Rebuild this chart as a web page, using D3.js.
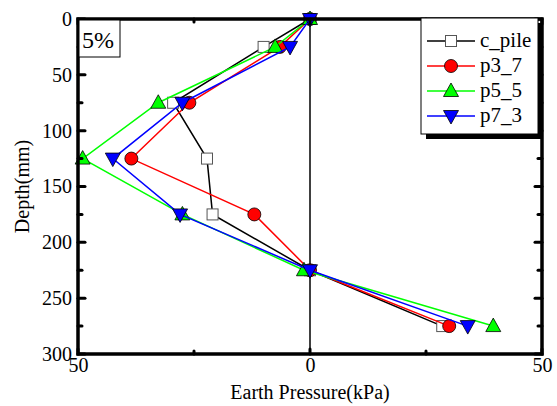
<!DOCTYPE html>
<html>
<head>
<meta charset="utf-8">
<script src="https://cdn.jsdelivr.net/npm/d3@7"></script>
<style>
  body { margin: 0; background: #fff; }
</style>
</head>
<body>
<div id="chart"></div>
<script>
// depth of each gauge (mm)
const depths = [0, 25, 75, 125, 175, 225, 275];

// earth pressure (kPa) per pile
const cPile = [0, -10, -29.5, -22.2, -21, 0, 28.5];
const p3_7 = [0, -6.5, -26, -38.5, -12, 0, 30];
const p5_5 = [0, -7.5, -32.7, -49, -27.5, -1.3, 39.5];
const p7_3 = [0, -4.3, -27.5, -42.5, -28, 0, 34];

const seriesNames = ["c_pile", "p3_7", "p5_5", "p7_3"];
const seriesValues = [cPile, p3_7, p5_5, p7_3];
const seriesColors = ["#000000", "#ff0000", "#00ff00", "#0000ff"];
const seriesMarkers = ["square", "circle", "up", "down"];

const xTicks = [-50, 0, 50];
const xMinor = [-25, 25];
const yTicks = [0, 50, 100, 150, 200, 250, 300];
const yMinor = [25, 75, 125, 175, 225, 275];

const FONT = "Liberation Serif";

const width = 557, height = 406;
const m = { left: 78, right: 15, top: 19, bottom: 52 };

const svg = d3.select("#chart").append("svg")
  .attr("width", width)
  .attr("height", height);

const x = d3.scaleLinear().domain([-50, 50]).range([m.left, width - m.right]);
const y = d3.scaleLinear().domain([0, 300]).range([m.top, height - m.bottom]);

/*****************************************************
 * ZERO LINE
 *****************************************************/
svg.append("line")
  .attr("x1", x(0)).attr("x2", x(0))
  .attr("y1", y(0)).attr("y2", y(300))
  .attr("stroke", "#000").attr("stroke-width", 1.5);

/*****************************************************
 * SERIES
 *****************************************************/
function marker(g, type, color) {
  if (type === "square") {
    g.append("rect").attr("x", -5.5).attr("y", -5.5).attr("width", 11).attr("height", 11)
      .attr("fill", "#fff").attr("stroke", "#555").attr("stroke-width", 1);
  } else if (type === "circle") {
    g.append("circle").attr("r", 6.5).attr("fill", color).attr("stroke", "#000").attr("stroke-width", 0.8);
  } else {
    const s = type === "up" ? 1 : -1;
    g.append("path")
      .attr("d", `M0,${-8 * s}L7.5,${5.5 * s}L-7.5,${5.5 * s}Z`)
      .attr("fill", color).attr("stroke", "#000").attr("stroke-width", 0.8);
  }
}

const line = d3.line().x(d => x(d[0])).y(d => y(d[1]));

seriesValues.forEach((vals, i) => {
  const pts = vals.map((v, j) => [v, depths[j]]);
  svg.append("path")
    .attr("d", line(pts))
    .attr("fill", "none")
    .attr("stroke", seriesColors[i])
    .attr("stroke-width", 1.5);
  pts.forEach(p => {
    const g = svg.append("g").attr("transform", `translate(${x(p[0])},${y(p[1])})`);
    marker(g, seriesMarkers[i], seriesColors[i]);
  });
});

/*****************************************************
 * AXES (ticks inside)
 *****************************************************/
const fmt = d => Math.abs(d);

const left = svg.append("g").attr("transform", `translate(${m.left},0)`)
  .call(d3.axisLeft(y).tickValues(yTicks).tickSize(0).tickPadding(6).tickFormat(fmt));
const bottom = svg.append("g").attr("transform", `translate(0,${height - m.bottom})`)
  .call(d3.axisBottom(x).tickValues(xTicks).tickSize(0).tickPadding(4).tickFormat(fmt));
[left, bottom].forEach(a => {
  a.attr("font-family", FONT).attr("font-size", 20);
  a.select(".domain").remove();
  a.selectAll("text").attr("fill", "#000").attr("font-family", FONT);
});

const tickG = svg.append("g").attr("stroke", "#000").attr("stroke-linecap", "round");
yTicks.concat(yMinor).forEach(v => {
  const len = yTicks.includes(v) ? 7 : 4;
  tickG.append("line").attr("x1", m.left).attr("x2", m.left + len)
    .attr("y1", y(v)).attr("y2", y(v)).attr("stroke-width", 3);
  tickG.append("line").attr("x1", width - m.right).attr("x2", width - m.right - len)
    .attr("y1", y(v)).attr("y2", y(v)).attr("stroke-width", 3);
});
xTicks.concat(xMinor).forEach(v => {
  const len = xTicks.includes(v) ? 5 : 3;
  tickG.append("line").attr("x1", x(v)).attr("x2", x(v))
    .attr("y1", y(300)).attr("y2", y(300) - len).attr("stroke-width", 3);
  tickG.append("line").attr("x1", x(v)).attr("x2", x(v))
    .attr("y1", y(0)).attr("y2", y(0) + len).attr("stroke-width", 3);
});

// frame
svg.append("rect")
  .attr("x", m.left).attr("y", m.top)
  .attr("width", width - m.left - m.right)
  .attr("height", height - m.top - m.bottom)
  .attr("fill", "none").attr("stroke", "#000").attr("stroke-width", 3.5);

/*****************************************************
 * AXIS TITLES
 *****************************************************/
svg.append("text")
  .attr("x", x(0)).attr("y", height - 7)
  .attr("text-anchor", "middle").attr("font-size", 20).attr("font-family", FONT)
  .text("Earth Pressure(kPa)");

svg.append("text")
  .attr("transform", `translate(29,${y(150)}) rotate(-90)`)
  .attr("text-anchor", "middle").attr("font-size", 20).attr("font-family", FONT)
  .text("Depth(mm)");

/*****************************************************
 * 5% LABEL
 *****************************************************/
svg.append("rect")
  .attr("x", m.left + 1).attr("y", m.top + 1).attr("width", 41).attr("height", 37)
  .attr("fill", "#fff").attr("stroke", "#000").attr("stroke-width", 1);
svg.append("text")
  .attr("x", m.left + 4).attr("y", m.top + 29)
  .attr("font-size", 24).attr("font-family", FONT)
  .text("5%");

/*****************************************************
 * LEGEND
 *****************************************************/
const lx = 421, ly = 18, lw = 117, lh = 116;
svg.append("rect").attr("x", lx + 5).attr("y", ly + 5).attr("width", lw).attr("height", lh)
  .attr("fill", "#000");
svg.append("rect").attr("x", lx).attr("y", ly).attr("width", lw).attr("height", lh)
  .attr("fill", "#fff").attr("stroke", "#000").attr("stroke-width", 1);

seriesNames.forEach((name, i) => {
  const yy = ly + 23 + i * 25;
  svg.append("line").attr("x1", lx + 6).attr("x2", lx + 54)
    .attr("y1", yy).attr("y2", yy)
    .attr("stroke", seriesColors[i]).attr("stroke-width", 1.5);
  const g = svg.append("g").attr("transform", `translate(${lx + 30},${yy})`);
  marker(g, seriesMarkers[i], seriesColors[i]);
  svg.append("text").attr("x", lx + 59).attr("y", yy + 6)
    .attr("font-size", 21).attr("font-family", FONT).text(name);
});
</script>
</body>
</html>
